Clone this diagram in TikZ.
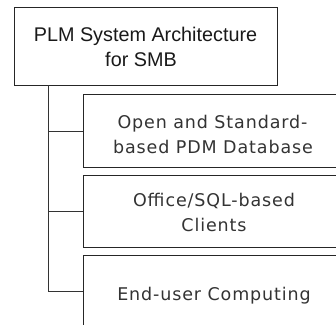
\documentclass[tikz,border=0pt]{standalone}
\usepackage{fontspec}
\setmainfont{Liberation Sans}
\newfontfamily\widesans[LetterSpace=5]{DejaVu Sans}
\begin{document}
\begin{tikzpicture}[x=1pt,y=-1pt,
  rootbox/.style={draw=black!85, line width=0.9pt, rectangle, inner sep=0pt},
  childbox/.style={draw=black!85, line width=1.3pt, rectangle, inner sep=0pt},
  branch/.style={draw=black!80, line width=0.9pt},
  rootline/.style={font=\fontsize{19.8}{24}\selectfont, anchor=base, inner sep=0pt, text=black!90},
  childline/.style={font=\widesans\fontsize{17.5}{21}\selectfont, anchor=base, inner sep=0pt, text=black!80}]
\useasboundingbox (0,0) rectangle (336,324);
\begin{scope}
\clip (0,0) rectangle (336,324);
% root box
\node[rootbox, minimum width=263.5pt, minimum height=78pt, anchor=north west] (root) at (13.5,7) {};
\node[rootline] (r1) at (145.5,41.7) {PLM System Architecture};
\node[rootline] (r2) at (141,66.7) {for SMB};
% child boxes, running past the right edge
\node[childbox, minimum width=270pt, minimum height=73pt, anchor=north west] (c1) at (82.7,94) {};
\node[childbox, minimum width=270pt, minimum height=72pt, anchor=north west] (c2) at (82.7,175) {};
\node[childbox, minimum width=270pt, minimum height=90pt, anchor=north west] (c3) at (82.7,255) {};
\node[childline] (t1a) at (212.5,128.3) {Open and Standard-};
\node[childline] (t1b) at (213,153.3) {based PDM Database};
\node[childline] (t2a) at (214,206.7) {Office/SQL-based};
\node[childline] (t2b) at (214,231.7) {Clients};
\node[childline] (t3) at (214,300) {End-user Computing};
% tree connectors
\coordinate (trunk) at (48,85);
\coordinate (b1) at (48,131);
\coordinate (b2) at (48,211);
\coordinate (b3) at (48,291);
\draw[branch] (trunk) -- (b3);
\draw[branch] (b1) -- (b1 -| c1.west);
\draw[branch] (b2) -- (b2 -| c2.west);
\draw[branch] (b3) -- (b3 -| c3.west);
\end{scope}
\end{tikzpicture}
\end{document}
